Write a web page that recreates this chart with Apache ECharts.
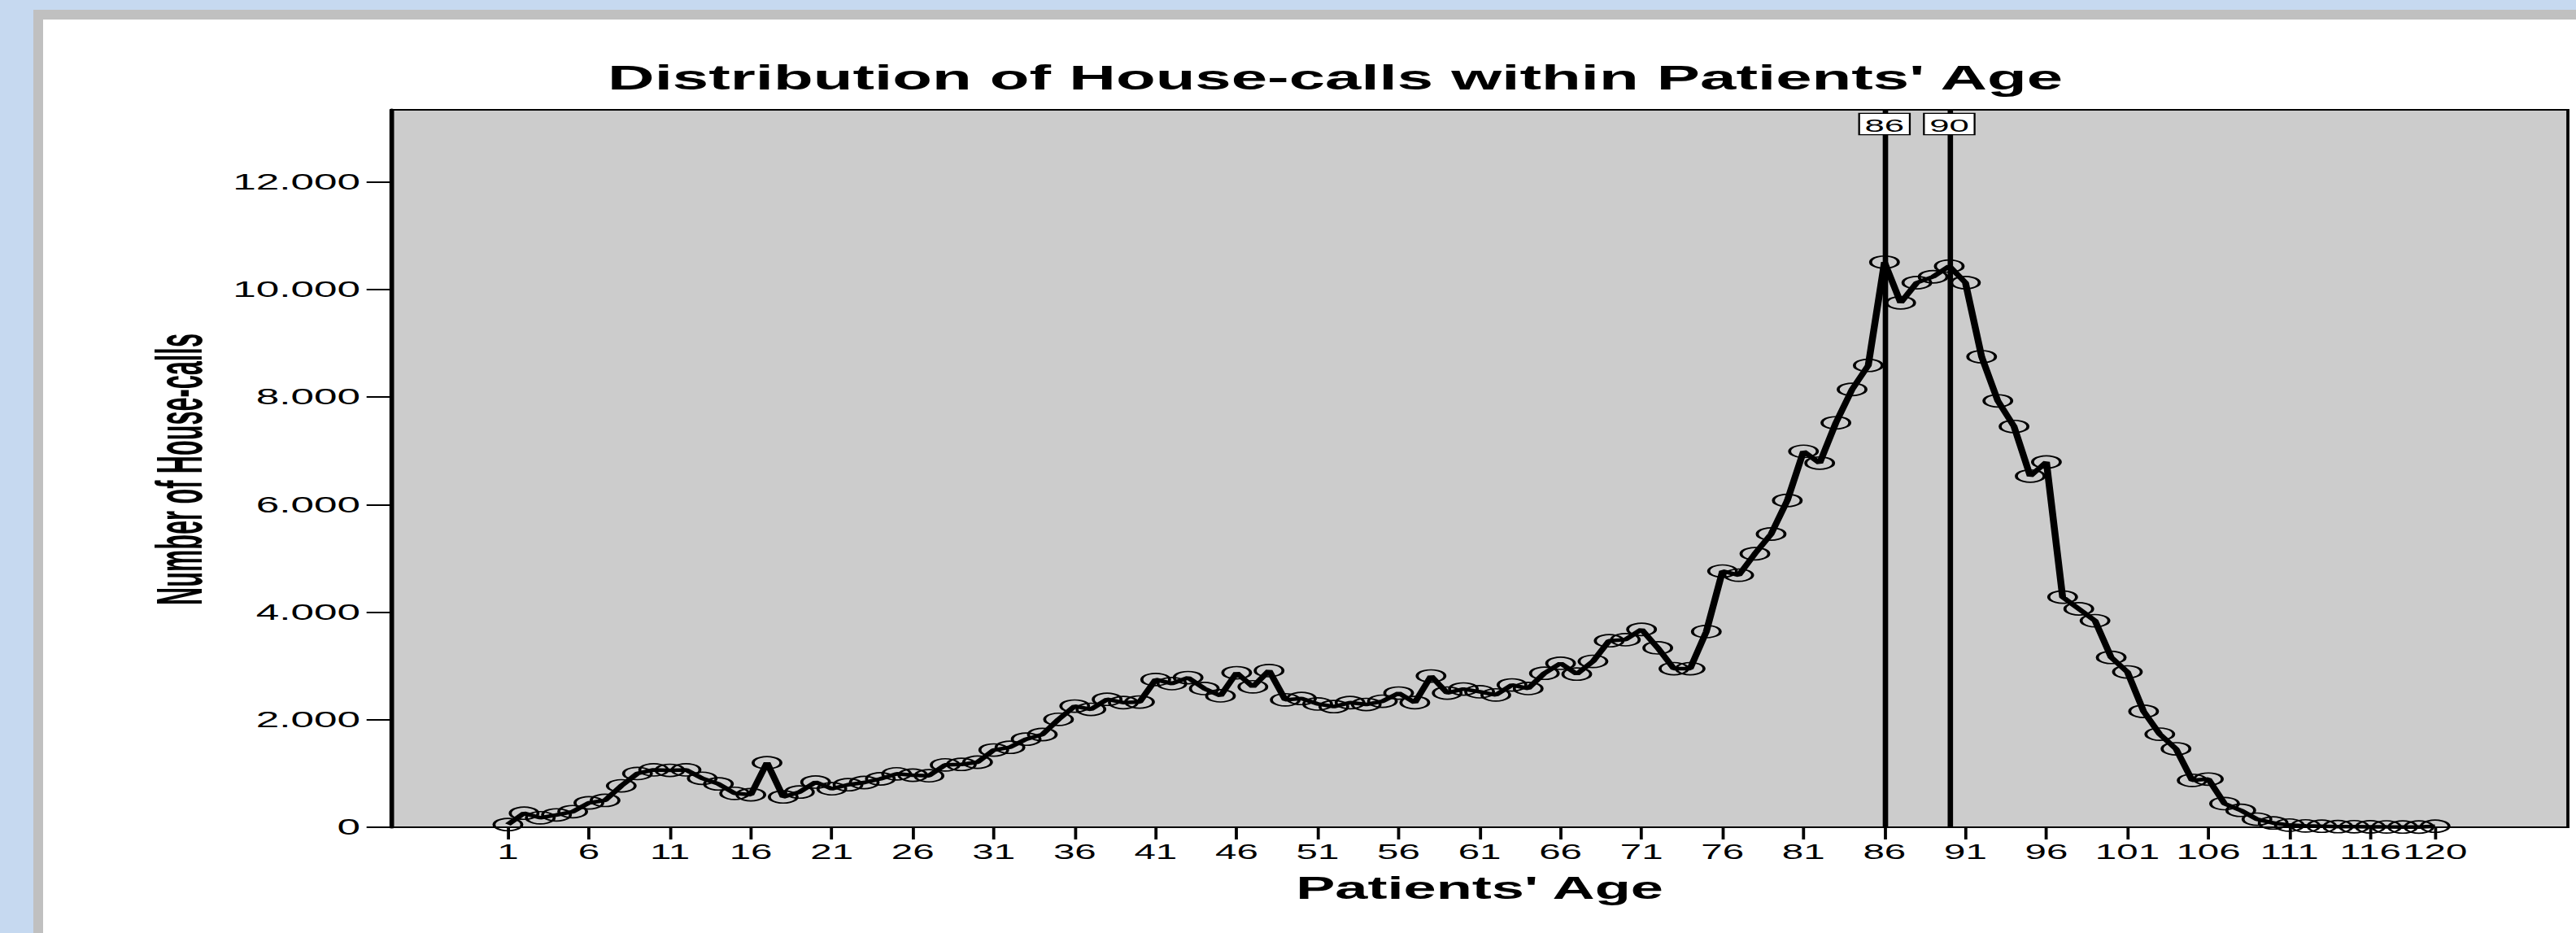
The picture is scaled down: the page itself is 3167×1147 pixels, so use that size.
<!DOCTYPE html>
<html>
<head>
<meta charset="utf-8">
<script src="https://cdn.jsdelivr.net/npm/echarts@6/dist/echarts.min.js"></script>
<style>
  html, body { margin: 0; padding: 0; }
  body { width: 3167px; height: 1147px; background: #c6d9f0; position: relative; overflow: hidden; }
  #frame { position: absolute; left: 41px; top: 12px; right: 0; bottom: 0; background: #c0c0c0; }
  #paper { position: absolute; left: 53px; top: 24px; right: 0; bottom: 0; background: #ffffff; }
  #chart { position: absolute; left: 0; top: 0; width: 1667px; height: 1147px; transform: scaleX(1.9); transform-origin: 0 0; }
</style>
</head>
<body>
<div id="frame"></div>
<div id="paper"></div>
<div id="chart"></div>
<script>
// ---- data ----
const ages = [];
for (let a = 1; a <= 120; a++) ages.push(a);
const houseCalls = [
  50, 262, 176, 230, 290, 454, 500, 770, 1000, 1068,
  1058, 1068, 910, 806, 630, 605, 1200, 564, 655, 840,
  716, 791, 832, 900, 993, 968, 958, 1159, 1169, 1210,
  1436, 1487, 1638, 1724, 2006, 2253, 2192, 2379, 2318, 2328,
  2747, 2671, 2782, 2580, 2444, 2873, 2611, 2913, 2369, 2394,
  2293, 2243, 2318, 2283, 2343, 2495, 2318, 2812, 2495, 2570,
  2520, 2460, 2646, 2580, 2863, 3049, 2848, 3084, 3468, 3488,
  3679, 3336, 2948, 2948, 3639, 4763, 4687, 5086, 5452, 6076,
  6990, 6771, 7520, 8141, 8588, 10507, 9752, 10126, 10236, 10434,
  10126, 8749, 7928, 7452, 6529, 6792, 4280, 4061, 3840, 3158,
  2888, 2155, 1730, 1459, 872, 895, 440, 315, 150, 80,
  40, 25, 20, 12, 10, 8, 6, 5, 4, 20
];
const xTickLabels = [1, 6, 11, 16, 21, 26, 31, 36, 41, 46, 51, 56, 61, 66, 71, 76, 81, 86, 91, 96, 101, 106, 111, 116, 120];
const referenceAges = [86, 90];
const yTicks = [0, 2000, 4000, 6000, 8000, 10000, 12000];

const titleText = "Distribution of House-calls within Patients' Age";
const xName = "Patients' Age";
const yName = "Number of House-calls";

const FONT = "'Liberation Sans', Arial, sans-serif";
const points = ages.map((a, i) => [a, houseCalls[i]]);
const fmt = v => String(v).replace(/\B(?=(\d{3})+(?!\d))/g, '.');

const chart = echarts.init(document.getElementById('chart'), null, { renderer: 'svg' });
chart.setOption({
  animation: false,
  backgroundColor: 'transparent',
  textStyle: { fontFamily: FONT, color: '#000' },
  title: {
    text: titleText,
    left: 859,
    top: 70,
    textAlign: 'center',
    textStyle: { fontFamily: FONT, fontSize: 42, fontWeight: 'bold', color: '#000' }
  },
  grid: {
    left: 253.2, right: 5.4, top: 135, bottom: 130,
    show: true, backgroundColor: '#cccccc', borderColor: '#000', borderWidth: 2
  },
  xAxis: {
    type: 'value',
    min: -6.2,
    max: 128.2,
    name: xName,
    nameLocation: 'middle',
    nameGap: 56,
    nameTextStyle: { fontFamily: FONT, fontSize: 38, fontWeight: 'bold', color: '#000' },
    axisLine: { show: true, onZero: false, lineStyle: { color: '#000', width: 2 } },
    axisTick: { show: true, customValues: xTickLabels, length: 15, lineStyle: { color: '#000', width: 2 } },
    axisLabel: { customValues: xTickLabels, margin: 18, fontSize: 25, color: '#000', fontFamily: FONT },
    splitLine: { show: false }
  },
  yAxis: {
    type: 'value',
    min: 0,
    max: 13340,
    axisLine: { show: true, onZero: false, lineStyle: { color: '#000', width: 3 } },
    axisTick: { show: true, customValues: yTicks, length: 16, lineStyle: { color: '#000', width: 2 } },
    axisLabel: { customValues: yTicks, margin: 20, fontSize: 27, color: '#000', fontFamily: FONT, formatter: v => fmt(v) },
    splitLine: { show: false }
  },
  graphic: [{
    type: 'text',
    x: 116, y: 577,
    rotation: Math.PI / 2,
    scaleX: 0.73,
    style: {
      text: yName, fontFamily: FONT, fontSize: 42, fontWeight: 'bold', fill: '#000',
      textAlign: 'center', textVerticalAlign: 'middle'
    }
  }],
  series: [{
    type: 'line',
    data: points,
    symbol: 'circle',
    symbolSize: [18, 15],
    showSymbol: true,
    lineStyle: { color: '#000', width: 4.5 },
    itemStyle: { color: 'rgba(0,0,0,0)', borderColor: '#000', borderWidth: 1.8 },
    emphasis: { disabled: true },
    markLine: {
      silent: true,
      symbol: ['none', 'none'],
      lineStyle: { color: '#000', width: 3.5, type: 'solid' },
      label: {
        show: true,
        position: 'end',
        distance: -30,
        formatter: p => String(p.value),
        fontFamily: FONT,
        fontSize: 23,
        color: '#000',
        backgroundColor: '#fff',
        borderColor: '#000',
        borderWidth: 1.2,
        padding: [2, 3, 0, 3]
      },
      data: referenceAges.map(a => ({ xAxis: a }))
    }
  }]
});
</script>
</body>
</html>
